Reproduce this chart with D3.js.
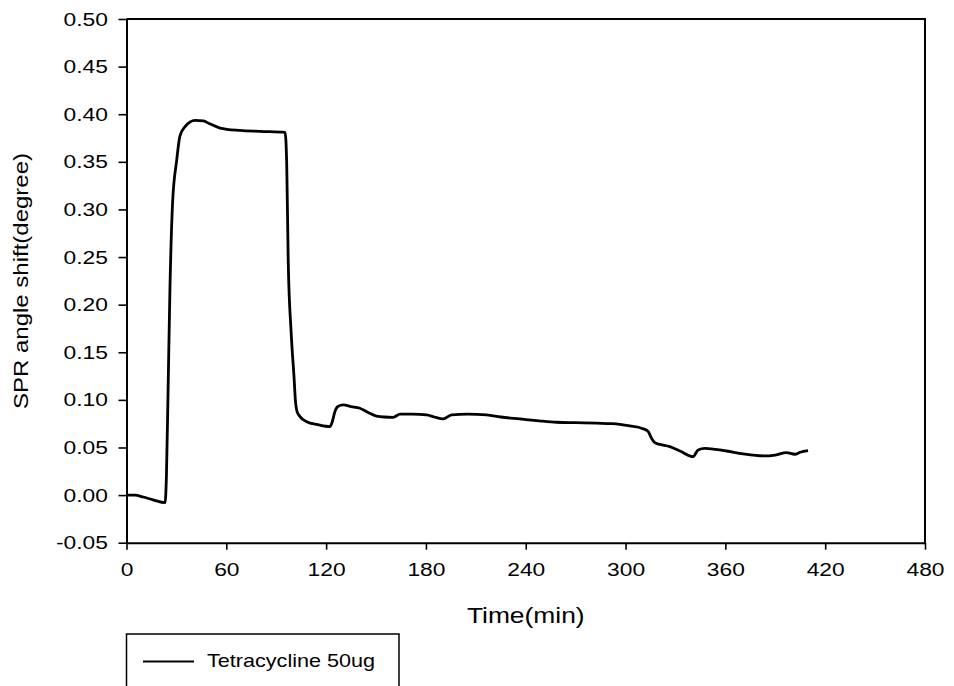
<!DOCTYPE html>
<html>
<meta charset=utf-8>
<head>
<script src="https://cdn.jsdelivr.net/npm/d3@7"></script>
<style>
  body { margin: 0; background: #fff; }
  text { font-family: "Liberation Sans", Arial, sans-serif; fill: #000; }
</style>
</head>
<body>
<script>

// time (min) and SPR angle shift (degree)
var time = [0, 5, 10, 16, 23.2, 24.0, 25.1, 26.1, 27.7, 30.2, 32.1, 35.2, 41.2, 46.2, 50, 56.2, 68.2, 80.2, 95.3,
  96.3, 97.2, 99, 100.8, 101.5, 102.5, 104.3, 108.3, 115, 122.3, 123.5, 125.3, 127, 130.3, 135, 140.3, 145,
  150.3, 155, 160.3, 164.4, 172, 180.4, 185, 190.4, 195.4, 205, 216.5, 225, 236.5, 248, 258.5, 270, 282.6,
  292, 302.6, 310, 313.6, 315.5, 317.6, 320, 326.6, 333, 340.6, 343.6, 347.6, 354, 360.7, 370.7, 382.7,
  390, 396.7, 401.7, 405, 409.7];
var shift = [0.0, 0.0, -0.002, -0.005, -0.008, 0.02, 0.12, 0.215, 0.307, 0.352, 0.377, 0.387, 0.3935, 0.393, 0.390,
  0.3855, 0.383, 0.382, 0.381,
  0.349, 0.247, 0.17, 0.121, 0.1, 0.088, 0.0824, 0.077, 0.074, 0.072, 0.076, 0.0877, 0.093, 0.0947, 0.093, 0.0912, 0.087,
  0.083, 0.082, 0.0817, 0.085, 0.085, 0.0842, 0.082, 0.080, 0.0842, 0.085, 0.0842, 0.082, 0.080, 0.078, 0.0765, 0.076, 0.0755,
  0.075, 0.0726, 0.070, 0.0667, 0.060, 0.055, 0.0535, 0.0509, 0.046, 0.0404, 0.0474, 0.049, 0.048, 0.0463, 0.0432, 0.0411,
  0.042, 0.0446, 0.0429, 0.045, 0.0467];

var xTicks = [0, 60, 120, 180, 240, 300, 360, 420, 480];
var yTicks = [-0.05, 0, 0.05, 0.10, 0.15, 0.20, 0.25, 0.30, 0.35, 0.40, 0.45, 0.50];
var seriesName = "Tetracycline 50ug";

var W = 954, H = 686;
var pL = 126.5, pT = 19, pR = 925, pB = 542.7;

var svg = d3.select("body").append("svg")
  .attr("width", W).attr("height", H);

var x = d3.scaleLinear().domain([0, 480]).range([pL, pR]);
var y = d3.scaleLinear().domain([-0.05, 0.50]).range([pB, pT]);

// frame top + right
svg.append("path")
  .attr("d", "M" + pL + "," + pT + "H" + pR + "V" + pB)
  .attr("fill", "none").attr("stroke", "#000").attr("stroke-width", 2);

var xAxis = svg.append("g")
  .attr("transform", "translate(0," + pB + ")")
  .call(d3.axisBottom(x).tickValues(xTicks).tickSize(7).tickSizeOuter(0).tickFormat(d3.format("d")));
xAxis.selectAll("text")
  .attr("y", 20).attr("font-size", 19)
  .attr("transform", "scale(1.2,1)");

// plain hyphen for the minus, like the original
var fmtY = function(d) { return d.toFixed(2); };
var yAxis = svg.append("g")
  .attr("transform", "translate(" + pL + ",0)")
  .call(d3.axisLeft(y).tickValues(yTicks).tickSize(8).tickSizeOuter(0).tickFormat(fmtY));
yAxis.selectAll("text")
  .attr("x", -15.5).attr("font-size", 19)
  .attr("transform", "scale(1.2,1)");

svg.selectAll(".domain").attr("stroke-width", 2);
svg.selectAll(".tick line").attr("stroke-width", 1.6);

// the curve
var pts = time.map(function(t, i) { return [t, shift[i]]; });
var line = d3.line()
  .x(function(d) { return x(d[0]); })
  .y(function(d) { return y(d[1]); })
  .curve(d3.curveMonotoneX);

svg.append("path")
  .datum(pts)
  .attr("d", line)
  .attr("fill", "none")
  .attr("stroke", "#000")
  .attr("stroke-width", 2.8)
  .attr("stroke-linejoin", "round");

// axis titles
svg.append("text")
  .attr("transform", "translate(" + ((pL + pR) / 2) + ",622.5) scale(1.2,1)")
  .attr("text-anchor", "middle")
  .attr("font-size", 22)
  .text("Time(min)");

svg.append("text")
  .attr("transform", "translate(28,281) rotate(-90) scale(1.2,1)")
  .attr("text-anchor", "middle")
  .attr("font-size", 20)
  .text("SPR angle shift(degree)");

// legend, box runs off the bottom edge
var lg = svg.append("g");
lg.append("rect")
  .attr("x", 126.5).attr("y", 634)
  .attr("width", 272.5).attr("height", 70)
  .attr("fill", "#fff").attr("stroke", "#000").attr("stroke-width", 1.5);
lg.append("line")
  .attr("x1", 143).attr("x2", 194)
  .attr("y1", 661.5).attr("y2", 661.5)
  .attr("stroke", "#000").attr("stroke-width", 2);
lg.append("text")
  .attr("transform", "translate(207,667) scale(1.2,1)")
  .attr("font-size", 18)
  .text(seriesName);

</script>
</body>
</html>
